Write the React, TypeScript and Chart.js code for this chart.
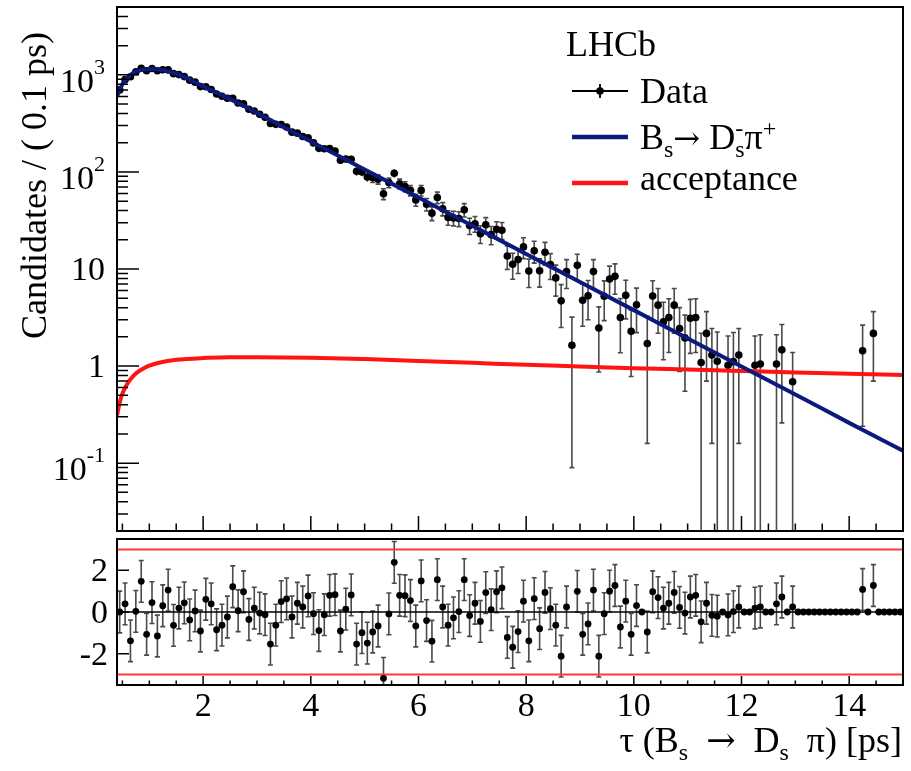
import React, { useEffect, useRef } from "react";
import { Chart, registerables } from "chart.js";

Chart.register(...registerables);

// Decay-time bins (0.1 ps wide), centres in ps
const binCentres = [
  0.45, 0.55, 0.65, 0.75, 0.85, 0.95, 1.05, 1.15, 1.25, 1.35,
  1.45, 1.55, 1.65, 1.75, 1.85, 1.95, 2.05, 2.15, 2.25, 2.35,
  2.45, 2.55, 2.65, 2.75, 2.85, 2.95, 3.05, 3.15, 3.25, 3.35,
  3.45, 3.55, 3.65, 3.75, 3.85, 3.95, 4.05, 4.15, 4.25, 4.35,
  4.45, 4.55, 4.65, 4.75, 4.85, 4.95, 5.05, 5.15, 5.25, 5.35,
  5.45, 5.55, 5.65, 5.75, 5.85, 5.95, 6.05, 6.15, 6.25, 6.35,
  6.45, 6.55, 6.65, 6.75, 6.85, 6.95, 7.05, 7.15, 7.25, 7.35,
  7.45, 7.55, 7.65, 7.75, 7.85, 7.95, 8.05, 8.15, 8.25, 8.35,
  8.45, 8.55, 8.65, 8.75, 8.85, 8.95, 9.05, 9.15, 9.25, 9.35,
  9.45, 9.55, 9.65, 9.75, 9.85, 9.95, 10.05, 10.15, 10.25, 10.35,
  10.45, 10.55, 10.65, 10.75, 10.85, 10.95, 11.05, 11.15, 11.25, 11.35,
  11.45, 11.55, 11.65, 11.75, 11.85, 11.95, 12.05, 12.15, 12.25, 12.35,
  12.45, 12.55, 12.65, 12.75, 12.85, 12.95, 13.05, 13.15, 13.25, 13.35,
  13.45, 13.55, 13.65, 13.75, 13.85, 13.95, 14.05, 14.15, 14.25, 14.35,
  14.45, 14.55, 14.65, 14.75, 14.85, 14.95,
];

// Weighted candidates per bin (null = empty bin)
const candidates: (number | null)[] = [
  700, 892, 957, 1076, 1170, 1104, 1163, 1102, 1130, 1125,
  1029, 1006, 959, 882, 841, 757, 755, 706, 635, 603,
  575, 575, 513, 502, 442, 425, 392, 365, 316, 309,
  308, 290, 257, 251, 232, 225, 199, 175, 173, 174,
  164, 132, 136, 135, 101.6, 100, 88.6, 87, 84, 59.5,
  77.7, 97, 75.6, 70.8, 64.6, 51.5, 64.5, 46.4, 37.6, 54.5,
  41.8, 34, 33.6, 33.1, 40.7, 28, 29.3, 23.1, 28.5, 22.6,
  25.6, 25.1, 13.6, 11.2, 12.5, 16.9, 9.55, 15.4, 9.6, 14.9,
  11.1, 8.1, 4.7, 9.4, 1.64, 10.9, 4.77, 5.3, 9.4, 2.47,
  5.24, 7.9, 8.4, 3.17, 5.36, 2.28, 4.28, null, 1.71, 5.28,
  4.24, 2.85, 3.16, 4.24, 2.44, 1.95, 3.11, 3.16, 1.09, 2.17,
  1.3, 1.12, null, 1.02, 1.11, 1.3, null, null, 1.02, 1.05,
  null, null, 1.05, 1.47, null, 0.69, null, null, null, null,
  null, null, null, null, null, null, null, null, 1.44, null,
  2.17, null, null, null, null, null,
];

// Statistical uncertainty of each bin
const candidateErrors: (number | null)[] = [
  26, 30, 31, 33, 34, 33, 34, 33, 34, 34,
  32, 32, 31, 30, 29, 28, 27, 27, 25, 25,
  24, 24, 23, 22, 21, 21, 20, 19, 18, 18,
  18, 17, 16, 16, 15, 15, 14, 13, 13, 13,
  13, 11.5, 11.7, 11.6, 10.1, 10, 9.4, 9.3, 9.2, 7.7,
  8.8, 9.8, 8.7, 8.4, 8.0, 7.2, 8.0, 6.8, 6.1, 7.4,
  6.5, 5.8, 5.8, 5.8, 6.4, 5.3, 5.4, 4.8, 5.3, 4.8,
  5.1, 5.0, 3.7, 3.35, 3.5, 4.1, 3.1, 3.9, 3.1, 3.9,
  3.3, 2.85, 2.2, 3.1, 1.55, 3.3, 2.2, 2.3, 3.1, 1.6,
  2.3, 2.8, 2.9, 1.8, 2.3, 1.5, 2.07, null, 1.55, 2.3,
  2.06, 1.69, 1.78, 2.06, 1.56, 1.4, 1.76, 1.78, 1.09, 1.47,
  1.14, 1.12, null, 1.02, 1.11, 1.14, null, null, 1.02, 1.05,
  null, null, 1.05, 1.21, null, 0.69, null, null, null, null,
  null, null, null, null, null, null, null, null, 1.2, null,
  1.47, null, null, null, null, null,
];

// Pull of each bin, (data - fit) / error; null = outside the pull range
const pulls: (number | null)[] = [
  0, 0.39, -1.38, 0.03, 1.47, -1.07, 0.45, -1.15, 0.3, 1.05,
  -0.64, 0.19, 0.44, -0.38, 0.05, -0.91, 0.61, 0.39, -0.85, -0.63,
  -0.24, 1.21, 0.06, 0.97, -0.36, 0.19, -0.05, -0.13, -1.54, -0.63,
  0.5, 0.63, -0.24, 0.42, 0.24, 0.77, -0.08, -0.89, -0.13, 0.8,
  0.83, -0.91, 0.14, 0.82, -1.54, -0.99, -1.49, -0.96, -0.67, -3.18,
  -0.09, 2.38, 0.8, 0.78, 0.55, -0.67, 1.49, -0.41, -1.4, 1.55,
  0.24, -0.63, -0.28, 0.02, 1.55, -0.17, 0.42, -0.45, 0.93, 0.11,
  0.97, 1.16, -1.22, -1.69, -0.94, 0.52, -1.38, 0.64, -0.8, 0.94,
  0.16, -0.63, -2.12, 0.24, null, 0.99, -1.07, -0.57, 1.05, -2.12,
  -0.08, 1.0, 1.27, -0.72, 0.52, -1.07, 0.31, 0, -0.96, 0.97,
  0.69, 0.19, 0.42, 0.94, 0.22, -0.05, 0.72, 0.8, -0.47, 0.42,
  -0.16, -0.2, 0, -0.14, 0.02, 0.24, 0, 0, 0.19, 0.24,
  0, 0, 0.39, 0.72, 0, 0.24, 0, 0, 0, 0,
  0, 0, 0, 0, 0, 0, 0, 0, 1.08, 0,
  1.27, 0, 0, 0, 0, 0,
];

// Fitted B_s -> D_s pi decay-time model
const fitTime = [
  0.4, 0.45, 0.5, 0.55, 0.6, 0.7, 0.8, 0.9, 1.0, 1.1, 1.2, 1.3, 1.4, 1.5,
  1.6, 1.7, 1.8, 2.0, 2.2, 2.4, 2.6, 2.8, 3.0, 3.5, 4.0, 5.0, 6.0, 7.0,
  8.0, 9.0, 10.0, 11.0, 12.0, 13.0, 14.0, 15.0,
];
const fitYield = [
  600, 700, 800, 880, 945, 1045, 1100, 1132, 1146, 1145, 1131, 1105, 1071, 1027,
  973, 920, 866, 760, 676, 600, 529, 465, 407, 289, 206, 106, 54.4, 27.9,
  14.3, 7.35, 3.77, 1.93, 0.99, 0.51, 0.26, 0.134,
];

// Decay-time acceptance (arbitrary normalisation)
const accTime = [
  0.4, 0.45, 0.5, 0.6, 0.7, 0.8, 0.9, 1.0, 1.2, 1.5, 2.0, 2.5, 3.0, 4.0,
  5.0, 6.0, 7.0, 8.0, 9.0, 10.0, 11.0, 12.0, 13.0, 14.0, 15.0,
];
const accValue = [
  0.31, 0.42, 0.52, 0.67, 0.79, 0.88, 0.95, 1.01, 1.09, 1.16, 1.21, 1.23, 1.235, 1.22,
  1.18, 1.13, 1.08, 1.03, 0.99, 0.95, 0.92, 0.89, 0.86, 0.835, 0.81,
];

// Axis labelling
const xTickValues = [2, 4, 6, 8, 10, 12, 14];
const yTickValues = [0.1, 1, 10, 100, 1000];
const yTickBase = ["10", "1", "10", "10", "10"];
const yTickExp = ["-1", "", "", "2", "3"];
const pullTickValues = [2, 0, -2];
const pullTickLabels = ["2", "0", "-2"];
const pullLimits = [-3, 3];

const SERIF = '"Liberation Serif", "Times New Roman", Times, serif';
const ARROW_FONT = '"DejaVu Serif", "Liberation Serif", serif';
const BLUE = "#0c1a7e";
const RED = "#ff1414";
const BAR = "#4a4a4a";
const LABEL = 34;
const TEXT = 36;
const SMALL = 24;

type Run = {
  text: string;
  size: number;
  dy?: number;
  stack?: string;
  stackDy?: number;
  family?: string;
};

function runFont(r: Run) {
  return `${r.size}px ${r.family || SERIF}`;
}

function runsWidth(ctx: CanvasRenderingContext2D, runs: Run[]) {
  let w = 0;
  for (const r of runs) {
    ctx.font = runFont(r);
    let rw = ctx.measureText(r.text).width;
    if (r.stack) rw = Math.max(rw, ctx.measureText(r.stack).width);
    w += rw;
  }
  return w;
}

function drawRuns(ctx: CanvasRenderingContext2D, runs: Run[], x: number, y: number) {
  let cx = x;
  ctx.textAlign = "left";
  ctx.textBaseline = "alphabetic";
  for (const r of runs) {
    ctx.font = runFont(r);
    ctx.fillText(r.text, cx, y + (r.dy || 0));
    let w = ctx.measureText(r.text).width;
    if (r.stack) {
      ctx.fillText(r.stack, cx, y + (r.stackDy || 0));
      w = Math.max(w, ctx.measureText(r.stack).width);
    }
    cx += w;
  }
  return cx;
}

function drawBars(
  ctx: CanvasRenderingContext2D,
  px: number,
  top: number,
  bot: number,
  capTop: boolean,
  capBot: boolean
) {
  ctx.beginPath();
  ctx.moveTo(px, top);
  ctx.lineTo(px, bot);
  if (Math.abs(bot - top) > 9) {
    if (capTop) {
      ctx.moveTo(px - 2.5, top);
      ctx.lineTo(px + 2.5, top);
    }
    if (capBot) {
      ctx.moveTo(px - 2.5, bot);
      ctx.lineTo(px + 2.5, bot);
    }
  }
  ctx.stroke();
}

const mainDecor = {
  id: "mainDecor",
  beforeDatasetsDraw(chart: any) {
    const { ctx, chartArea: a } = chart;
    const xs = chart.scales.x;
    const ys = chart.scales.y;
    ctx.save();
    ctx.beginPath();
    ctx.rect(a.left, a.top, a.right - a.left, a.bottom - a.top);
    ctx.clip();
    ctx.strokeStyle = BAR;
    ctx.lineWidth = 1.6;
    binCentres.forEach((t, i) => {
      const c = candidates[i];
      const e = candidateErrors[i];
      if (c == null || e == null) return;
      const px = xs.getPixelForValue(t);
      const top = ys.getPixelForValue(c + e);
      const lo = c - e;
      const bot = lo > 0.005 ? ys.getPixelForValue(lo) : a.bottom + 5;
      drawBars(ctx, px, top, bot, true, lo > 0.005);
    });
    ctx.restore();
  },
  afterDraw(chart: any) {
    const { ctx, chartArea: a } = chart;
    const xs = chart.scales.x;
    const ys = chart.scales.y;
    ctx.save();
    ctx.strokeStyle = "#000";
    ctx.fillStyle = "#000";

    // frame
    ctx.lineWidth = 2;
    ctx.strokeRect(a.left, a.top, a.right - a.left, a.bottom - a.top);

    // ticks
    ctx.lineWidth = 1.5;
    ctx.beginPath();
    for (let v = 0.5; v < 15; v += 0.5) {
      const px = xs.getPixelForValue(v);
      const major = v % 2 === 0;
      ctx.moveTo(px, a.bottom);
      ctx.lineTo(px, a.bottom - (major ? 15 : 7.5));
    }
    for (let d = -2; d <= 3; d++) {
      for (let m = 1; m <= 9; m++) {
        const v = m * Math.pow(10, d);
        if (v < 0.0199 || v > 5001) continue;
        const py = ys.getPixelForValue(v);
        ctx.moveTo(a.left, py);
        ctx.lineTo(a.left + (m === 1 ? 22 : 11), py);
      }
    }
    ctx.stroke();

    // y tick labels
    ctx.textAlign = "left";
    ctx.textBaseline = "alphabetic";
    const right = 105;
    yTickValues.forEach((v, i) => {
      const py = ys.getPixelForValue(v);
      const base = yTickBase[i];
      const exp = yTickExp[i];
      ctx.font = `${LABEL}px ${SERIF}`;
      const wb = ctx.measureText(base).width;
      if (exp) {
        ctx.font = `${SMALL - 2}px ${SERIF}`;
        const we = ctx.measureText(exp).width;
        ctx.fillText(exp, right - we, py - 1);
        ctx.font = `${LABEL}px ${SERIF}`;
        ctx.fillText(base, right - we - wb, py + 17);
      } else {
        ctx.fillText(base, right - wb, py + 11);
      }
    });

    // y title
    ctx.save();
    ctx.translate(46, 32);
    ctx.rotate(-Math.PI / 2);
    ctx.textAlign = "right";
    ctx.font = `${TEXT}px ${SERIF}`;
    ctx.fillText("Candidates / ( 0.1 ps)", 0, 0);
    ctx.restore();

    // legend
    ctx.font = `${TEXT}px ${SERIF}`;
    ctx.textAlign = "left";
    ctx.fillText("LHCb", 566, 56);

    ctx.lineWidth = 1.8;
    ctx.beginPath();
    ctx.moveTo(572, 91);
    ctx.lineTo(628, 91);
    ctx.moveTo(600, 84);
    ctx.lineTo(600, 98);
    ctx.stroke();
    ctx.beginPath();
    ctx.arc(600, 91, 3.8, 0, Math.PI * 2);
    ctx.fill();
    ctx.font = `${TEXT}px ${SERIF}`;
    ctx.fillText("Data", 640, 103);

    ctx.lineWidth = 4.5;
    ctx.strokeStyle = BLUE;
    ctx.beginPath();
    ctx.moveTo(572, 137);
    ctx.lineTo(628, 137);
    ctx.stroke();
    drawRuns(
      ctx,
      [
        { text: "B", size: TEXT },
        { text: "s", size: SMALL, dy: 8 },
        { text: "\u2192", size: 32, family: ARROW_FONT },
        { text: " D", size: TEXT },
        { text: "s", size: SMALL, dy: 8, stack: "-", stackDy: -13 },
        { text: "\u03c0", size: TEXT },
        { text: "+", size: SMALL, dy: -13 },
      ],
      640,
      149
    );

    ctx.strokeStyle = RED;
    ctx.beginPath();
    ctx.moveTo(572, 183);
    ctx.lineTo(628, 183);
    ctx.stroke();
    ctx.font = `${TEXT}px ${SERIF}`;
    ctx.textAlign = "left";
    ctx.fillText("acceptance", 640, 190);

    ctx.restore();
  },
};

const pullDecor = {
  id: "pullDecor",
  beforeDatasetsDraw(chart: any) {
    const { ctx, chartArea: a } = chart;
    const xs = chart.scales.x;
    const ys = chart.scales.y;
    ctx.save();
    ctx.beginPath();
    ctx.rect(a.left, a.top, a.right - a.left, a.bottom - a.top);
    ctx.clip();
    ctx.strokeStyle = BAR;
    ctx.lineWidth = 1.6;
    binCentres.forEach((t, i) => {
      const p = pulls[i];
      if (p == null || candidates[i] == null) return;
      const px = xs.getPixelForValue(t);
      drawBars(ctx, px, ys.getPixelForValue(p + 1), ys.getPixelForValue(p - 1), true, true);
    });
    ctx.restore();
  },
  afterDraw(chart: any) {
    const { ctx, chartArea: a } = chart;
    const xs = chart.scales.x;
    const ys = chart.scales.y;
    ctx.save();
    ctx.strokeStyle = "#000";
    ctx.fillStyle = "#000";
    ctx.lineWidth = 2;
    ctx.strokeRect(a.left, a.top, a.right - a.left, a.bottom - a.top);

    ctx.lineWidth = 1.5;
    ctx.beginPath();
    for (let v = 0.5; v < 15; v += 0.5) {
      const px = xs.getPixelForValue(v);
      const major = v % 2 === 0;
      ctx.moveTo(px, a.bottom);
      ctx.lineTo(px, a.bottom - (major ? 9 : 4.5));
    }
    pullTickValues.forEach((v) => {
      const py = ys.getPixelForValue(v);
      ctx.moveTo(a.left, py);
      ctx.lineTo(a.left + 12, py);
    });
    ctx.stroke();

    ctx.font = `${LABEL}px ${SERIF}`;
    ctx.textBaseline = "alphabetic";
    ctx.textAlign = "right";
    pullTickValues.forEach((v, i) => {
      ctx.fillText(pullTickLabels[i], 108, ys.getPixelForValue(v) + 11);
    });

    ctx.textAlign = "center";
    xTickValues.forEach((v) => {
      ctx.fillText(String(v), xs.getPixelForValue(v), 181);
    });

    const title: Run[] = [
      { text: "\u03c4", size: TEXT },
      { text: " (B", size: TEXT },
      { text: "s", size: SMALL, dy: 8 },
      { text: "  ", size: TEXT },
      { text: "\u2192", size: 35, family: ARROW_FONT },
      { text: "  D", size: TEXT },
      { text: "s", size: SMALL, dy: 8 },
      { text: "  \u03c0) [ps]", size: TEXT },
    ];
    const w = runsWidth(ctx, title);
    drawRuns(ctx, title, 902 - w, 217);
    ctx.restore();
  },
};

export default function App() {
  const mainRef = useRef<HTMLCanvasElement>(null);
  const pullRef = useRef<HTMLCanvasElement>(null);

  useEffect(() => {
    const dataPoints: { x: number; y: number }[] = [];
    const pullPoints: { x: number; y: number }[] = [];
    binCentres.forEach((t, i) => {
      const c = candidates[i];
      if (c != null) dataPoints.push({ x: t, y: c });
      const p = pulls[i];
      if (p != null) pullPoints.push({ x: t, y: p });
    });

    const main = new Chart(mainRef.current!, {
      type: "scatter",
      data: {
        datasets: [
          {
            label: "fit",
            data: fitTime.map((t, i) => ({ x: t, y: fitYield[i] })),
            showLine: true,
            borderColor: BLUE,
            borderWidth: 4,
            pointRadius: 0,
            cubicInterpolationMode: "monotone",
            order: 0,
          },
          {
            label: "acceptance",
            data: accTime.map((t, i) => ({ x: t, y: accValue[i] })),
            showLine: true,
            borderColor: RED,
            borderWidth: 4,
            pointRadius: 0,
            cubicInterpolationMode: "monotone",
            order: 1,
          },
          {
            label: "data",
            data: dataPoints,
            showLine: false,
            pointRadius: 3.8,
            pointBackgroundColor: "#000",
            pointBorderWidth: 0,
            borderWidth: 0,
            order: 2,
          },
        ],
      } as any,
      options: {
        responsive: false,
        maintainAspectRatio: false,
        animation: false,
        events: [],
        layout: { padding: { left: 0, right: 8, top: 7, bottom: 0 } },
        plugins: { legend: { display: false }, tooltip: { enabled: false } },
        scales: {
          x: {
            type: "linear",
            min: 0.4,
            max: 15,
            ticks: { display: false },
            grid: { display: false },
            border: { display: false },
            afterFit: (s: any) => {
              s.height = 2;
            },
          },
          y: {
            type: "logarithmic",
            min: 0.02,
            max: 5000,
            ticks: { display: false },
            grid: { display: false },
            border: { display: false },
            afterFit: (s: any) => {
              s.width = 117;
            },
          },
        },
      } as any,
      plugins: [mainDecor],
    });

    const guide = (y: number, color: string, width: number) => ({
      data: [
        { x: 0.4, y },
        { x: 15, y },
      ],
      showLine: true,
      borderColor: color,
      borderWidth: width,
      pointRadius: 0,
      order: 2,
    });

    const pull = new Chart(pullRef.current!, {
      type: "scatter",
      data: {
        datasets: [
          guide(0, "#000", 1.5),
          ...pullLimits.map((v) => guide(v, "#ff3a3a", 2)),
          {
            label: "pull",
            data: pullPoints,
            showLine: false,
            pointRadius: 3.4,
            pointBackgroundColor: "#000",
            pointBorderWidth: 0,
            borderWidth: 0,
            order: 0,
          },
        ],
      } as any,
      options: {
        responsive: false,
        maintainAspectRatio: false,
        animation: false,
        events: [],
        layout: { padding: { left: 0, right: 8, top: 2, bottom: 0 } },
        plugins: { legend: { display: false }, tooltip: { enabled: false } },
        scales: {
          x: {
            type: "linear",
            min: 0.4,
            max: 15,
            ticks: { display: false },
            grid: { display: false },
            border: { display: false },
            afterFit: (s: any) => {
              s.height = 86;
            },
          },
          y: {
            type: "linear",
            min: -3.5,
            max: 3.5,
            ticks: { display: false },
            grid: { display: false },
            border: { display: false },
            afterFit: (s: any) => {
              s.width = 117;
            },
          },
        },
      } as any,
      plugins: [pullDecor],
    });

    return () => {
      main.destroy();
      pull.destroy();
    };
  }, []);

  return (
    <div
      style={{
        position: "absolute",
        left: 0,
        top: 0,
        width: 911,
        height: 771,
        background: "#fff",
      }}
    >
      <canvas
        ref={mainRef}
        width={911}
        height={535}
        style={{ position: "absolute", left: 0, top: 0, width: 911, height: 535 }}
      />
      <canvas
        ref={pullRef}
        width={911}
        height={236}
        style={{ position: "absolute", left: 0, top: 535, width: 911, height: 236 }}
      />
    </div>
  );
}
